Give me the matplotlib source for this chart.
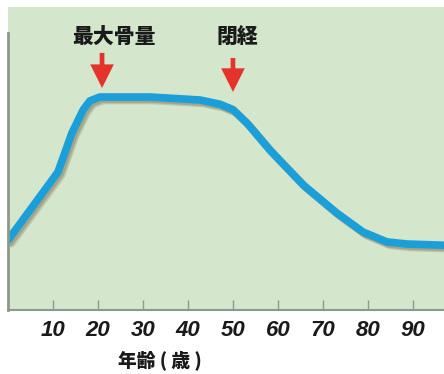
import matplotlib
matplotlib.use("Agg")
import matplotlib.pyplot as plt
import matplotlib.patheffects as pe

##Data (bone mass, arbitrary units)
ages = [0, 11.1, 14.2, 16.7, 18.2, 20.4, 31.6, 42.7, 47.1, 50, 53.1, 58.2, 65.6, 73.1, 78.9, 84.2, 88.7, 96.7]
boneMass = [23.3, 46, 59, 66.7, 69.7, 71, 71, 70, 68.6, 66.8, 62.3, 53.3, 41.7, 32.3, 26, 22.7, 22, 21.6]
tickAges = [10, 20, 30, 40, 50, 60, 70, 80, 90]
markerLabels = ["最大骨量", "閉経"]
markerAges = [20.9, 50]

bgGreen = "#d4e7cd"
lineBlue = "#1b9fd9"
arrowRed = "#e5332b"
cjk = ["Noto Sans CJK JP", "DejaVu Sans"]

fig = plt.figure(figsize=(4.44, 3.74), dpi=100)
ax = fig.add_axes([8/444, 64/374, 436/444, 303/374])
ax.set_facecolor(bgGreen)

# curve with a soft drop shadow
ax.plot(ages, boneMass, color=lineBlue, lw=5.5, solid_joinstyle="round", solid_capstyle="round",
        path_effects=[pe.SimpleLineShadow(offset=(2.5, -2.5), shadow_color="#6e5f40", alpha=0.25),
                      pe.SimpleLineShadow(offset=(1.5, -1.5), shadow_color="#6e5f40", alpha=0.3),
                      pe.Normal()])

ax.set_xlim(0, 96.9)
ax.set_ylim(0, 101)

# arrows and labels
arrowTops = [85.7, 84]
arrowTips = [74, 72.7]
labelX = [23.6, 50.9]
for i in range(len(markerLabels)):
    ax.annotate("", xy=(markerAges[i], arrowTips[i]), xytext=(markerAges[i], arrowTops[i]),
                arrowprops=dict(arrowstyle="simple,tail_width=0.2,head_width=1.0,head_length=1.0",
                                mutation_scale=17, color=arrowRed, lw=0, shrinkA=0, shrinkB=0))
    ax.text(labelX[i], 91, markerLabels[i], ha="center", va="center", fontsize=15,
            fontweight="heavy", family=cjk, color="#1a1a1a")

# axes styling
for s in ["top", "right"]:
    ax.spines[s].set_visible(False)
ax.spines["left"].set_bounds(0, 92.5)
ax.spines["left"].set_color("#8c9a8a")
ax.spines["left"].set_linewidth(2)
ax.spines["bottom"].set_color("#8c9a8a")
ax.spines["bottom"].set_linewidth(1.5)

ax.set_yticks([])
ax.set_xticks(tickAges)
ax.tick_params(axis="x", direction="in", length=7, width=1, color="#8c9a8a", pad=7)
ax.set_xticklabels([str(t) for t in tickAges], fontfamily="Liberation Sans",
                   fontweight="bold", fontstyle="italic", fontsize=16, color="#1a1a1a")

fig.text(160/444, 1 - 360/374, "年齢 ( 歳 )", ha="center", va="center", fontsize=13.5,
         fontweight="heavy", family=cjk, color="#1a1a1a")

fig.savefig("out.png", dpi=100)
